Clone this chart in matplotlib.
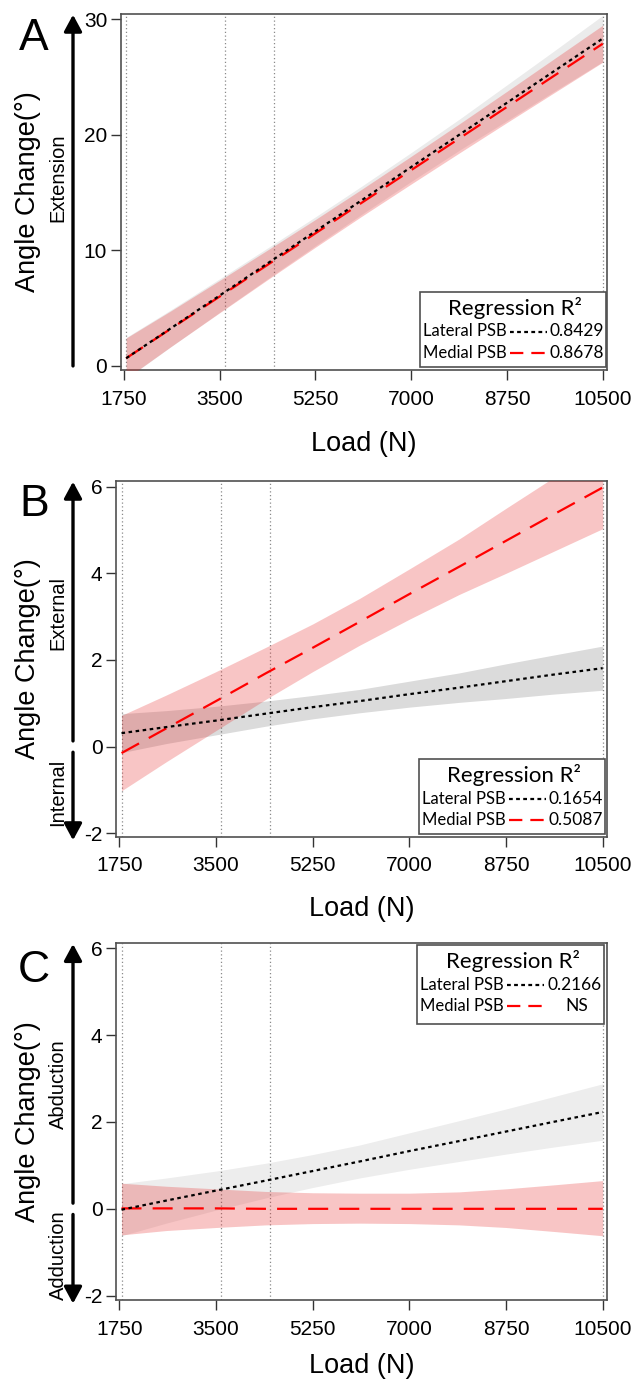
import matplotlib
matplotlib.use('Agg')
import matplotlib.pyplot as plt
from matplotlib.patches import Rectangle, ArrowStyle
from matplotlib.lines import Line2D

plt.rcParams['font.family'] = ['Liberation Sans', 'DejaVu Sans']
plt.rcParams['axes.unicode_minus'] = False

W, H = 644, 1384

# ---- data ----
load = [1790, 2600, 3500, 4400, 5250, 6100, 7000, 7900, 8750, 9600, 10500]
ref_loads = [1790, 3590, 4485, 10500]
x_ticks = [1750, 3500, 5250, 7000, 8750, 10500]
series_names = ['Lateral PSB', 'Medial PSB']

# A: flexion/extension
a_lat_fit = [0.67, 3.24, 6.10, 8.96, 11.66, 14.36, 17.22, 20.08, 22.78, 25.48, 28.34]
a_lat_lo = [-1.13, 1.64, 4.65, 7.63, 10.41, 13.14, 15.97, 18.73, 21.23, 23.73, 26.34]
a_lat_hi = [2.47, 4.84, 7.55, 10.29, 12.91, 15.58, 18.47, 21.43, 24.33, 27.23, 30.34]
a_med_fit = [0.67, 3.20, 6.01, 8.83, 11.48, 14.14, 16.95, 19.76, 22.42, 25.08, 27.89]
a_med_lo = [-1.08, 1.65, 4.61, 7.55, 10.28, 12.97, 15.75, 18.50, 21.07, 23.61, 26.29]
a_med_hi = [2.42, 4.75, 7.41, 10.11, 12.68, 15.31, 18.15, 21.02, 23.77, 26.55, 29.49]
a_yticks = [0, 10, 20, 30]
a_r2 = ['0.8429', '0.8678']

# B: internal/external rotation
b_lat_fit = [0.31, 0.45, 0.60, 0.76, 0.91, 1.05, 1.21, 1.36, 1.51, 1.66, 1.81]
b_lat_lo = [-0.14, 0.07, 0.27, 0.47, 0.64, 0.78, 0.91, 1.02, 1.11, 1.21, 1.30]
b_lat_hi = [0.76, 0.83, 0.93, 1.05, 1.18, 1.32, 1.51, 1.70, 1.91, 2.11, 2.32]
b_med_fit = [-0.15, 0.42, 1.05, 1.69, 2.28, 2.88, 3.52, 4.15, 4.75, 5.35, 5.98]
b_med_lo = [-1.02, -0.35, 0.37, 1.09, 1.73, 2.34, 2.94, 3.51, 4.00, 4.50, 5.03]
b_med_hi = [0.72, 1.19, 1.73, 2.29, 2.83, 3.42, 4.10, 4.79, 5.50, 6.20, 6.93]
b_yticks = [-2, 0, 2, 4, 6]
b_r2 = ['0.1654', '0.5087']

# C: abduction/adduction
c_lat_fit = [-0.02, 0.19, 0.42, 0.65, 0.87, 1.09, 1.33, 1.56, 1.78, 2.00, 2.23]
c_lat_lo = [-0.62, -0.33, -0.03, 0.25, 0.49, 0.71, 0.91, 1.09, 1.26, 1.42, 1.58]
c_lat_hi = [0.58, 0.71, 0.87, 1.05, 1.25, 1.47, 1.75, 2.03, 2.30, 2.58, 2.88]
c_med_fit = [0.01, 0.01, 0.01, 0.0, 0.0, 0.0, 0.0, 0.0, 0.0, 0.0, 0.0]
c_med_lo = [-0.60, -0.50, -0.43, -0.37, -0.34, -0.33, -0.34, -0.37, -0.43, -0.52, -0.62]
c_med_hi = [0.59, 0.52, 0.46, 0.40, 0.37, 0.36, 0.36, 0.39, 0.46, 0.55, 0.65]
c_yticks = [-2, 0, 2, 4, 6]
c_r2 = ['0.2166', 'NS']


def px(x, y):
    return x / W, 1 - y / H


fig = plt.figure(figsize=(W / 100, H / 100), dpi=100)

panels = [
    dict(letter='A', box=(120.7, 14, 607.4, 370), ylim=(-0.35, 30.46), yticks=a_yticks,
         lat=(a_lat_fit, a_lat_lo, a_lat_hi), med=(a_med_fit, a_med_lo, a_med_hi),
         r2=a_r2, grey=0.08, letter_y=39, legend=(420, 292, 605.5, 367), lpad=16,
         up='Extension', up_y=178, down=None, down_y=None, gap=False),
    dict(letter='B', box=(116, 481, 607.4, 836.7), ylim=(-2.08, 6.13), yticks=b_yticks,
         lat=(b_lat_fit, b_lat_lo, b_lat_hi), med=(b_med_fit, b_med_lo, b_med_hi),
         r2=b_r2, grey=0.14, letter_y=504, legend=(419.3, 759, 605, 834), lpad=15,
         up='External', up_y=613, down='Internal', down_y=792, gap=True),
    dict(letter='C', box=(116, 943.3, 607.4, 1300), ylim=(-2.1, 6.115), yticks=c_yticks,
         lat=(c_lat_fit, c_lat_lo, c_lat_hi), med=(c_med_fit, c_med_lo, c_med_hi),
         r2=c_r2, grey=0.07, letter_y=970, legend=(417.3, 945, 604, 1024), lpad=10,
         up='Abduction', up_y=1084, down='Adduction', down_y=1255, gap=True),
]

frame_col = '#505050'
arrow_style = ArrowStyle('-|>', head_length=0.5, head_width=0.27)
leg_font = ['Lato', 'DejaVu Sans']

for p in panels:
    x0, y0, x1, y1 = p['box']
    ax = fig.add_axes([x0 / W, 1 - y1 / H, (x1 - x0) / W, (y1 - y0) / H])
    ax.set_xlim(1690, 10585)
    ax.set_ylim(*p['ylim'])

    for xv in ref_loads:
        ax.axvline(xv, color='#8a8a8a', lw=0.9, ls=(0, (1, 2)), zorder=1)

    fit, lo, hi = p['lat']
    ax.fill_between(load, lo, hi, color='black', alpha=p['grey'], lw=0, zorder=2)
    mfit, mlo, mhi = p['med']
    ax.fill_between(load, mlo, mhi, color='#e83030', alpha=0.28, lw=0, zorder=3)
    ax.plot(load, mfit, color='#ff0000', lw=1.6, ls=(0, (9, 5)), zorder=4)
    ax.plot(load, fit, color='black', lw=1.6, ls=(0, (1.6, 1.6)), zorder=5)

    ax.set_xticks(x_ticks)
    ax.set_yticks(p['yticks'])
    ax.tick_params(axis='both', direction='out', length=7.2, width=1.0, color='#333333',
                   labelsize=15)
    ax.tick_params(axis='x', pad=7)
    ax.tick_params(axis='y', pad=2.5)
    for s in ax.spines.values():
        s.set_color(frame_col)
        s.set_linewidth(1.2)
    ax.set_xlabel('Load (N)', fontsize=19.5, labelpad=p['lpad'])

    # left-hand annotation: label, direction words, arrows
    cy = (y0 + y1) / 2
    fig.text(*px(28, cy), 'Angle Change(°)', rotation=90, ha='center', va='center',
             fontsize=19.5)
    fig.text(*px(58, p['up_y']), p['up'], rotation=90, ha='center', va='center',
             fontsize=14.5)
    if p['down']:
        fig.text(*px(58, p['down_y']), p['down'], rotation=90, ha='center', va='center',
                 fontsize=14.5)
    fig.text(*px(34, p['letter_y']), p['letter'], ha='center', va='center', fontsize=32)

    gap = 0.13 if p['gap'] else 0.0
    ax.annotate('', xy=(73 / W, p['ylim'][1] - 0.002 * (p['ylim'][1] - p['ylim'][0])),
                xytext=(73 / W, gap), xycoords=('figure fraction', 'data'),
                textcoords=('figure fraction', 'data'), annotation_clip=False,
                arrowprops=dict(arrowstyle=arrow_style, lw=2.4, color='black',
                                mutation_scale=20, shrinkA=0, shrinkB=0))
    if p['gap']:
        ax.annotate('', xy=(73 / W, p['ylim'][0] - 0.01 * (p['ylim'][1] - p['ylim'][0])),
                    xytext=(73 / W, -gap), xycoords=('figure fraction', 'data'),
                    textcoords=('figure fraction', 'data'), annotation_clip=False,
                    arrowprops=dict(arrowstyle=arrow_style, lw=2.4, color='black',
                                    mutation_scale=20, shrinkA=0, shrinkB=0))

    # legend box
    lx0, ly0, lx1, ly1 = p['legend']
    fig.add_artist(Rectangle(px(lx0, ly1), (lx1 - lx0) / W, (ly1 - ly0) / H,
                             transform=fig.transFigure, facecolor='white',
                             edgecolor=frame_col, lw=1.2, zorder=10))
    fig.text(*px((lx0 + lx1) / 2 + 2, ly0 + 16), 'Regression R²', ha='center', va='center',
             fontsize=16, family=leg_font, zorder=11)
    styles = [dict(color='black', ls=(0, (1.7, 1.5))), dict(color='#ff0000', ls=(0, (6, 3.6)))]
    for i, (name, val) in enumerate(zip(series_names, p['r2'])):
        yy = ly0 + 39.5 + i * 21.5
        fig.text(*px(lx0 + 3, yy), name, ha='left', va='center', fontsize=12,
                 family=leg_font, zorder=11)
        fig.add_artist(Line2D([(lx0 + 90) / W, (lx0 + 127) / W], [1 - yy / H] * 2,
                              transform=fig.transFigure, lw=1.6, zorder=11, **styles[i]))
        if val == 'NS':
            fig.text(*px(lx1 - 27, yy), val, ha='center', va='center', fontsize=12.5,
                     family=leg_font, zorder=11)
        else:
            fig.text(*px(lx1 - 2, yy), val, ha='right', va='center', fontsize=12.5,
                     family=leg_font, zorder=11)

fig.savefig('out.png', dpi=100)
